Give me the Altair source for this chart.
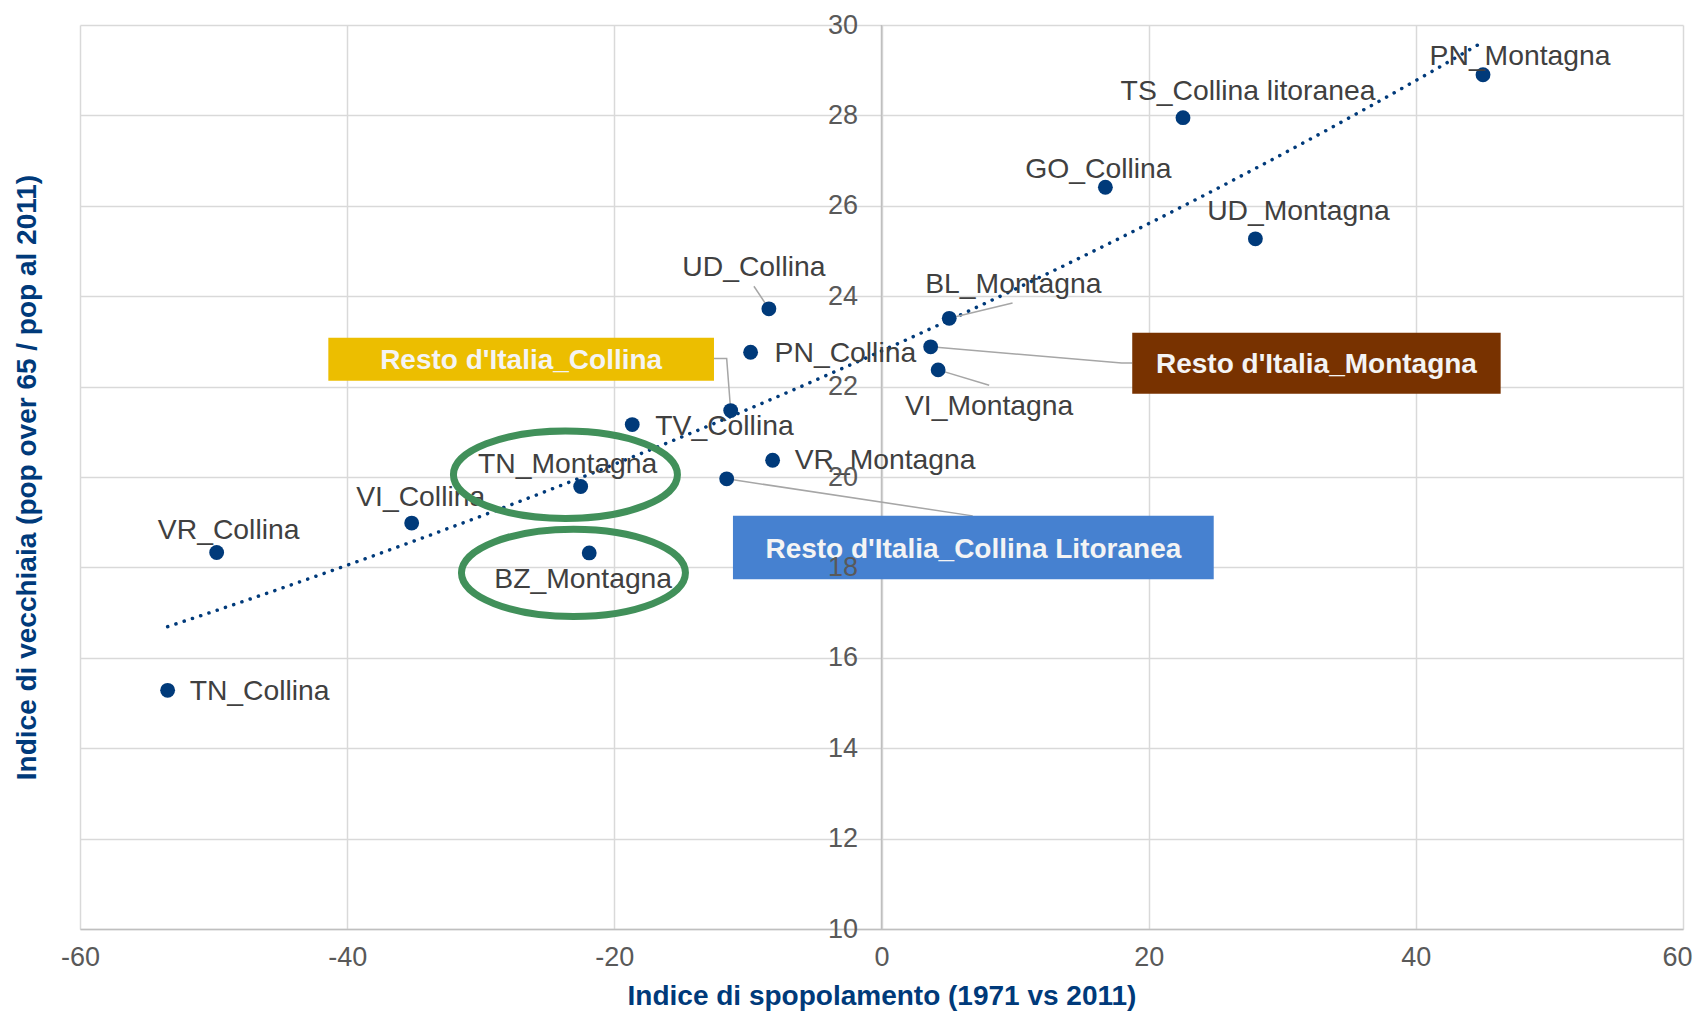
import altair as alt
import pandas as pd

FONT = "Liberation Sans"
NAVY = "#003a7a"

# ---- data ----
names = ["PN_Montagna", "TS_Collina litoranea", "GO_Collina", "UD_Montagna", "UD_Collina",
         "BL_Montagna", "PN_Collina", "Resto d'Italia_Montagna", "VI_Montagna",
         "Resto d'Italia_Collina", "TV_Collina", "VR_Montagna",
         "Resto d'Italia_Collina Litoranea", "TN_Montagna", "VI_Collina", "VR_Collina",
         "BZ_Montagna", "TN_Collina"]
spopolamento = [45.03, 22.57, 16.76, 27.99, -8.43, 5.07, -9.80, 3.68, 4.24, -11.29,
                -18.66, -8.15, -11.59, -22.52, -35.17, -49.77, -21.88, -53.44]
vecchiaia = [28.90, 27.95, 26.41, 25.27, 23.72, 23.51, 22.76, 22.88, 22.37, 21.47,
             21.16, 20.37, 19.96, 19.79, 18.98, 18.33, 18.32, 15.28]

x_ticks = [-60, -40, -20, 0, 20, 40, 60]
y_ticks = [10, 12, 14, 16, 18, 20, 22, 24, 26, 28, 30]
y_axis_at = [0]   # the vertical axis crosses x = 0

# label placement: (name, align, dx px, dy px)
label_place = [
    ("PN_Montagna", "center", 37, -10),
    ("TS_Collina litoranea", "center", 65, -18),
    ("GO_Collina", "center", -7, -9),
    ("UD_Montagna", "center", 43, -19),
    ("UD_Collina", "center", -15, -33),
    ("BL_Montagna", "left", -24, -25),
    ("PN_Collina", "left", 24, 10),
    ("VI_Montagna", "center", 51, 45),
    ("TV_Collina", "left", 23, 10),
    ("VR_Montagna", "left", 22, 9),
    ("TN_Montagna", "center", -13, -13),
    ("VI_Collina", "center", 9, -17),
    ("VR_Collina", "center", 12, -13),
    ("BZ_Montagna", "center", -6, 35),
    ("TN_Collina", "left", 22, 10),
]

# callout boxes
box_text = ["Resto d'Italia_Collina", "Resto d'Italia_Montagna", "Resto d'Italia_Collina Litoranea"]
box_color = ["#ecbe00", "#783200", "#4681d0"]
box_x1 = [-41.41, 18.77, -11.12]
box_x2 = [-12.54, 46.35, 24.87]
box_y1 = [23.08, 23.19, 19.14]
box_y2 = [22.13, 21.84, 17.74]

# leader lines: point name -> bend/end points (data units)
leaders = {
    "UD_Collina": [(-9.55, 24.22)],
    "BL_Montagna": [(9.81, 23.85)],
    "VI_Montagna": [(8.06, 22.03)],
    "Resto d'Italia_Collina": [(-11.59, 22.62), (-12.54, 22.62)],
    "Resto d'Italia_Montagna": [(17.98, 22.52), (18.77, 22.52)],
    "Resto d'Italia_Collina Litoranea": [(6.83, 19.14)],
}

# highlight ellipses
ell_x = [-23.66, -23.06]
ell_y = [20.05, 17.88]

# ---- frames ----
df = pd.DataFrame({"name": names, "x": spopolamento, "y": vecchiaia})
pt = {n: (a, b) for n, a, b in zip(names, spopolamento, vecchiaia)}

rows = []
for lid, (n, pts) in enumerate(leaders.items()):
    seq = [pt[n]] + pts
    for k, (a, b) in enumerate(seq):
        rows.append({"id": lid, "k": k, "x": a, "y": b})
lead_df = pd.DataFrame(rows)

box_df = pd.DataFrame({"text": box_text, "color": box_color, "x": box_x1, "x2": box_x2,
                       "y": box_y1, "y2": box_y2})
ell_df = pd.DataFrame({"x": ell_x, "y": ell_y})
zero_df = pd.DataFrame({"x": y_axis_at})

xs = alt.Scale(domain=[-60, 60], nice=False, zero=False)
ys = alt.Scale(domain=[10, 30], nice=False, zero=False)

x_axis = alt.Axis(
    orient="bottom", values=x_ticks, grid=True, gridColor="#d9d9d9", gridWidth=1.5,
    domainColor="#bfbfbf", domainWidth=1.5, ticks=False, tickSize=0,
    labelExpr="datum.value < 0 ? '-' + abs(datum.value) : '' + datum.value",
    labelOffset={"condition": {"test": "datum.value === 60", "value": -6}, "value": 0},
    labelFont=FONT, labelFontSize=27, labelColor="#595959", labelPadding=15,
    labelFlush=False, labelOverlap=False,
    title="Indice di spopolamento (1971 vs 2011)", titleFont=FONT, titleFontSize=28,
    titleFontWeight="bold", titleColor=NAVY, titleBaseline="alphabetic", titleY=75, zindex=0)

y_grid_axis = alt.Axis(orient="left", values=y_ticks, grid=True, gridColor="#d9d9d9",
                       gridWidth=1.5, labels=False, ticks=False, domain=False, title=None,
                       zindex=0)

y_label_axis = alt.Axis(
    orient="left", values=y_ticks, grid=False, domain=False, ticks=False, tickSize=0,
    offset=-801.5, labelFont=FONT, labelFontSize=27, labelColor="#595959", labelPadding=24,
    labelFlush=False, labelOverlap=False,
    title="Indice di vecchiaia (pop over 65 / pop al 2011)", titleFont=FONT, titleFontSize=28,
    titleFontWeight="bold", titleColor=NAVY, titleX=-854.4, titleY=452, titleAngle=270,
    titleAlign="center", titleBaseline="middle", zindex=1)

X0 = alt.X("x:Q", scale=xs, axis=None)
Y0 = alt.Y("y:Q", scale=ys, axis=None)

# carrier of the x axis and of the grid (the data points, invisible)
grid_layer = alt.Chart(df).mark_point(opacity=0).encode(
    x=alt.X("x:Q", scale=xs, axis=x_axis), y=alt.Y("y:Q", scale=ys, axis=y_grid_axis))

zero_line = alt.Chart(zero_df).mark_rule(color="#bfbfbf", strokeWidth=1.5).encode(x=X0)

trend = alt.Chart(df).transform_regression("x", "y", method="exp").mark_line(
    color=NAVY, strokeWidth=3.5, strokeDash=[0.1, 8.6], strokeCap="round"
).encode(x=X0, y=Y0)

lead = alt.Chart(lead_df).mark_line(color="#a6a6a6", strokeWidth=1.5).encode(
    x=X0, y=Y0, detail="id:N", order="k:Q")

points = alt.Chart(df).mark_circle(size=220, color=NAVY, opacity=1).encode(x=X0, y=Y0)

labels = []
for n, al, dx, dy in label_place:
    labels.append(
        alt.Chart(df).transform_filter(alt.datum.name == n).mark_text(
            align=al, baseline="alphabetic", dx=dx, dy=dy, font=FONT, fontSize=28.3,
            color="#404040").encode(x=X0, y=Y0, text="name:N"))

boxes = alt.Chart(box_df).mark_rect().encode(
    x=X0, x2="x2:Q", y=Y0, y2="y2:Q", color=alt.Color("color:N", scale=None))

box_labels = alt.Chart(box_df).transform_calculate(
    cx="(datum.x + datum.x2) / 2", cy="(datum.y + datum.y2) / 2"
).mark_text(font=FONT, fontSize=28, fontWeight="bold", color="#f4f4f4", baseline="middle",
            align="center", dy=2).encode(
    x=alt.X("cx:Q", scale=xs, axis=None), y=alt.Y("cy:Q", scale=ys, axis=None), text="text:N")

ELLIPSE = ("M -1 0 C -1 -0.2154 -0.5523 -0.39 0 -0.39 C 0.5523 -0.39 1 -0.2154 1 0 "
           "C 1 0.2154 0.5523 0.39 0 0.39 C -0.5523 0.39 -1 0.2154 -1 0 Z")
ellipses = alt.Chart(ell_df).mark_point(
    shape=ELLIPSE, filled=False, color="#41905a", strokeWidth=7, size=50176, opacity=1
).encode(x=X0, y=Y0)

# carrier of the y tick labels and title (drawn above the callout boxes)
axis_layer = alt.Chart(df).mark_point(opacity=0).encode(
    x=X0, y=alt.Y("y:Q", scale=ys, axis=y_label_axis))

chart = alt.layer(grid_layer, zero_line, trend, lead, points, *labels, boxes, box_labels,
                  ellipses, axis_layer).resolve_axis(
    x="independent", y="independent"
).properties(
    width=1603, height=904,
    autosize=alt.AutoSizeParams(type="none"),
    padding={"left": 72, "top": 17, "right": 10, "bottom": 82},
).configure_view(stroke=None)

chart.save("out.html", embed_options={"renderer": "svg", "actions": False})
